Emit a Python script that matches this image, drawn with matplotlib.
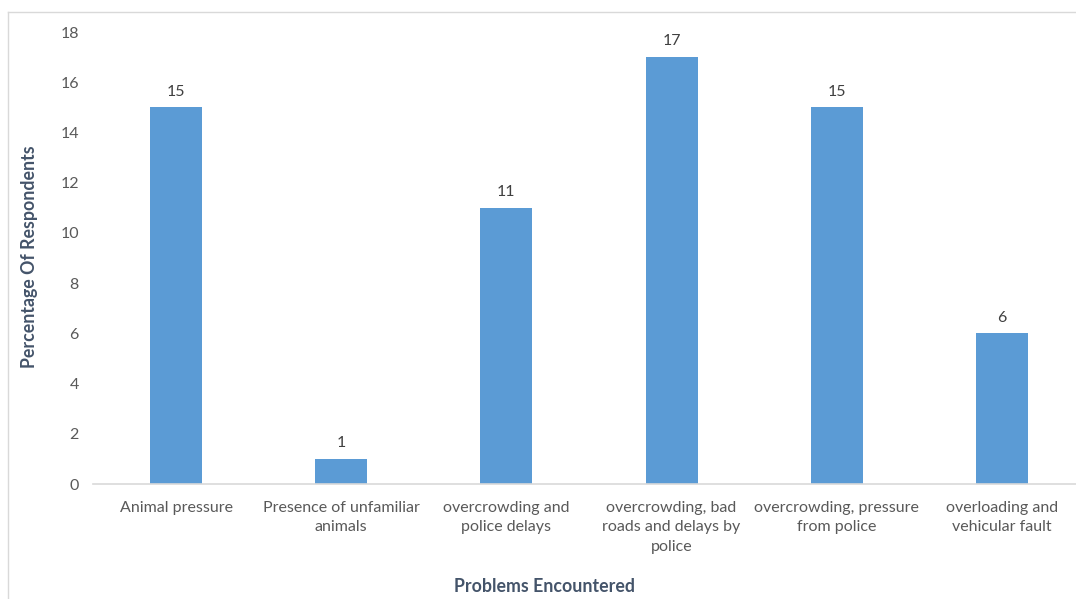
import matplotlib
matplotlib.use("Agg")
import matplotlib.pyplot as plt
from matplotlib.lines import Line2D

# data
problems = [
    "Animal pressure",
    "Presence of unfamiliar\nanimals",
    "overcrowding and\npolice delays",
    "overcrowding, bad\nroads and delays by\npolice",
    "overcrowding, pressure\nfrom police",
    "overloading and\nvehicular fault",
]
percent = [15, 1, 11, 17, 15, 6]
y_ticks = [0, 2, 4, 6, 8, 10, 12, 14, 16, 18]

plt.rcParams['font.family'] = ['Lato', 'DejaVu Sans']

fig = plt.figure(figsize=(10.76, 5.99), dpi=100)

# axes runs a bit past the right edge, like the cropped original
ax = fig.add_axes([93.5 / 1076, 115 / 599, 991 / 1076, 452 / 599])

x = list(range(len(problems)))
bars = ax.bar(x, percent, width=0.315, color="#5B9BD5", zorder=2)

for xi, v in zip(x, percent):
    ax.text(xi, v + 0.35, str(v), ha="center", va="bottom",
            fontsize=11.5, color="#404040")

ax.set_xlim(-0.5, 5.5)
ax.set_ylim(0, 18)
ax.set_yticks(y_ticks)
ax.set_xticks(x)
ax.set_xticklabels(problems, fontsize=11.5, color="#595959", linespacing=1.5)
ax.tick_params(axis="y", labelsize=11.5, labelcolor="#595959", length=0, pad=10.5)
ax.tick_params(axis="x", length=0, pad=12)

for s in ["top", "right", "left"]:
    ax.spines[s].set_visible(False)
ax.spines["bottom"].set_color("#D9D9D9")
ax.spines["bottom"].set_linewidth(1.2)

fig.text(30 / 1076, 1 - 257 / 599, "Percentage Of Respondents", rotation=90,
         ha="center", va="center", fontsize=12.8, fontweight="bold", color="#44546A")
fig.text(545 / 1076, 1 - 587 / 599, "Problems Encountered",
         ha="center", va="center", fontsize=12.8, fontweight="bold", color="#44546A")

# light chart-area border (left and top visible in the crop)
fig.add_artist(Line2D([8 / 1076, 8 / 1076], [0, 1 - 12 / 599],
                      transform=fig.transFigure, color="#D9D9D9", lw=1))
fig.add_artist(Line2D([8 / 1076, 1], [1 - 12 / 599, 1 - 12 / 599],
                      transform=fig.transFigure, color="#D9D9D9", lw=1))

fig.savefig("out.png", dpi=100)
